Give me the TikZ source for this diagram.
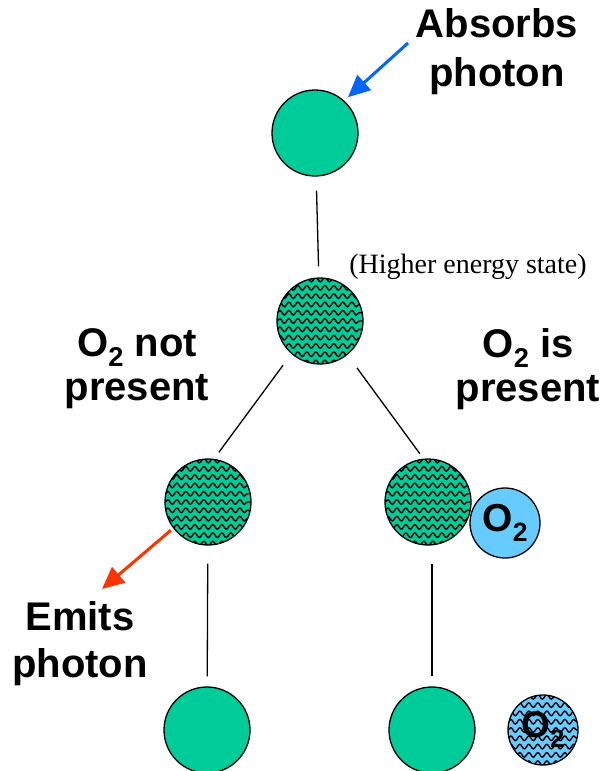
\documentclass[tikz,border=0pt]{standalone}
\usepackage{fontspec}
\usepackage{graphicx}
\setmainfont{Liberation Sans}
\newfontfamily\serifA{Liberation Serif}
\usetikzlibrary{decorations.pathmorphing,arrows.meta}
\definecolor{molgreen}{RGB}{0,204,153}
\definecolor{oxblue}{RGB}{102,204,255}
\definecolor{arrowblue}{RGB}{0,102,255}
\definecolor{arrowred}{RGB}{255,51,0}
\newcommand{\subtwo}{\raisebox{-0.27em}{\scalebox{0.68}{2}}}
\begin{document}
\begin{tikzpicture}[x=1pt,y=-1pt,
  mol/.style={circle, draw=black, line width=1.3pt, fill=molgreen, minimum size=86pt, inner sep=0pt},
  wave/.style={black, line width=1.4pt, decorate, decoration={snake, segment length=9pt, amplitude=2.3pt}},
  wavy/.style={path picture={\foreach \k in {-6,...,6}{\draw[wave] ([yshift=\k*8.3pt]path picture bounding box.west) -- ([yshift=\k*8.3pt]path picture bounding box.east);}}},
  oxy/.style={circle, draw=black, line width=1.3pt, fill=oxblue, minimum size=70pt, inner sep=0pt, font=\fontsize{39}{39}\selectfont\bfseries},
  txt/.style={font=\fontsize{40}{#1}\selectfont\bfseries, align=center, inner sep=0pt, anchor=north},
  link/.style={line width=1.3pt},
  photon/.style={line width=3pt, -{Triangle[length=22pt,width=20pt]}}
]
\useasboundingbox (0,0) rectangle (605,771);
% molecules
\node[mol] (t) at (315,133) {};
\node[mol,wavy] (c2) at (320,321) {};
\node[mol,wavy] (m1) at (208,502) {};
\node[mol,wavy] (m2) at (428,502) {};
\node[oxy] (ox1) at (505,523) {O\subtwo};
\node[mol] (b1) at (207,730) {};
\node[mol] (b2) at (432,730) {};
\node[oxy,wavy,font=\fontsize{37}{37}\selectfont\bfseries] (ox2) at (543,730) {O\subtwo};
% texts
\node[txt=49] (abs) at (497,8) {Absorbs\\photon};
\node[font=\serifA\fontsize{28}{28}\selectfont, anchor=base, inner sep=0pt] (hes) at (468,273) {(Higher energy state)};
\node[txt=44] (np) at (137,328) {O\subtwo{} not\\present};
\node[txt=44] (ip) at (528,328) {O\subtwo{} is\\present};
\node[txt=47] (em) at (80,601) {Emits\\photon};
% connectors
\draw[link, shorten <=14pt, shorten >=11pt] (t) -- (c2);
\draw[link, shorten <=14pt, shorten >=8pt] (c2.229) -- (m1.82);
\draw[link, shorten <=16pt, shorten >=6pt] (c2.309) -- (m2.96);
\draw[link, shorten <=18pt, shorten >=10pt] (m1) -- (b1);
\draw[link, shorten <=18pt, shorten >=10pt] (m2.south -| b2.north) -- (b2);
% photons
\coordinate (abstail) at (408,43);
\draw[photon, arrowblue, shorten >=5pt] (abstail) -- (t.48);
\coordinate (emtip) at (102,589);
\draw[photon, arrowred, shorten <=3pt] (m1.217) -- (emtip);
\end{tikzpicture}
\end{document}
